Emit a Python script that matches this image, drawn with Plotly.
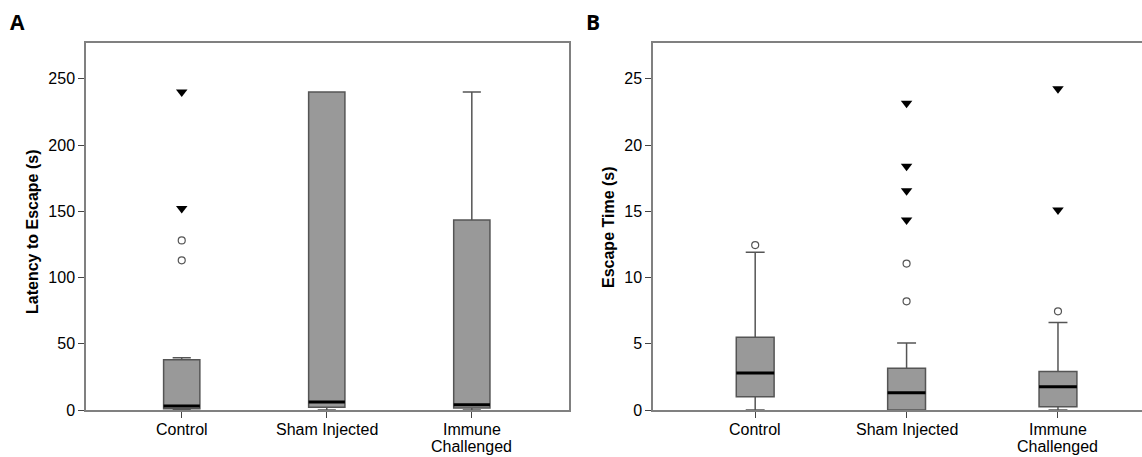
import plotly.graph_objects as go

# Groups shown along both x axes (each label split into its text lines)
group_lines = [["Control"], ["Sham Injected"], ["Immune", "Challenged"]]
positions = [0, 1, 2]

# Panel A: latency to escape (s) - box summary per group
latency_low = [0, 0, 0]
latency_q1 = [1.0, 2.0, 1.5]
latency_median = [3.0, 6.0, 4.0]
latency_q3 = [38.0, 240.0, 143.5]
latency_high = [39.5, 240.0, 240.0]
# mild outliers (circles) and extreme values (triangles), by group index
latency_out_group = [0, 0]
latency_out_value = [128, 113]
latency_ext_group = [0, 0]
latency_ext_value = [240, 152]

# Panel B: escape time (s) - box summary per group
escape_low = [0, 0, 0]
escape_q1 = [1.0, 0.0, 0.25]
escape_median = [2.8, 1.3, 1.75]
escape_q3 = [5.5, 3.15, 2.9]
escape_high = [11.9, 5.05, 6.6]
escape_out_group = [0, 1, 1, 2]
escape_out_value = [12.45, 11.05, 8.2, 7.45]
escape_ext_group = [1, 1, 1, 1, 2, 2]
escape_ext_value = [23.15, 18.4, 16.55, 14.35, 24.25, 15.1]

BOX_W = 0.25
FILL = "#999999"
EDGE = "#555555"
FONT = "Liberation Sans, Arial, sans-serif"

fig = go.Figure()


def add_panel(xa, ya, low, q1, med, q3, high, og, ov, eg, ev):
    fig.add_trace(go.Box(
        x=positions, q1=q1, median=med, q3=q3,
        lowerfence=low, upperfence=high,
        width=BOX_W, whiskerwidth=0.5,
        fillcolor=FILL, line=dict(color=EDGE, width=1.5),
        boxpoints=False, hoverinfo="skip",
        xaxis=xa, yaxis=ya, showlegend=False,
    ))
    # thick median bars
    mx, my = [], []
    for p, m in zip(positions, med):
        mx += [p - BOX_W / 2, p + BOX_W / 2, None]
        my += [m, m, None]
    fig.add_trace(go.Scatter(
        x=mx, y=my, mode="lines", line=dict(color="black", width=3),
        xaxis=xa, yaxis=ya, showlegend=False, hoverinfo="skip",
    ))
    fig.add_trace(go.Scatter(
        x=[positions[g] for g in og], y=ov, mode="markers",
        marker=dict(symbol="circle-open", size=7, color="#555555",
                    line=dict(width=1.2)),
        xaxis=xa, yaxis=ya, showlegend=False, hoverinfo="skip",
    ))
    fig.add_trace(go.Scatter(
        x=[positions[g] for g in eg], y=ev, mode="markers",
        marker=dict(symbol="triangle-down", size=10, color="black"),
        xaxis=xa, yaxis=ya, showlegend=False, hoverinfo="skip",
    ))


add_panel("x", "y", latency_low, latency_q1, latency_median, latency_q3,
          latency_high, latency_out_group, latency_out_value,
          latency_ext_group, latency_ext_value)
add_panel("x2", "y2", escape_low, escape_q1, escape_median, escape_q3,
          escape_high, escape_out_group, escape_out_value,
          escape_ext_group, escape_ext_value)

W, H = 1142, 457
y_dom = [1 - 410 / H, 1 - 43 / H]

xcommon = dict(
    tickvals=positions, showticklabels=False, ticks="outside", ticklen=6,
    tickcolor="#444444", showline=True, linecolor="#808080", linewidth=1.5,
    showgrid=False, zeroline=False, automargin=False,
)
ycommon = dict(
    ticks="outside", ticklen=6, tickcolor="#444444",
    showline=True, linecolor="#808080", linewidth=1.5,
    showgrid=False, zeroline=False, automargin=False,
    tickfont=dict(family=FONT, size=16, color="black"),
)

annotations = [
    dict(text="<b>A</b>", x=8 / W, y=1 - 22 / H, xref="paper", yref="paper",
         xanchor="left", yanchor="middle", showarrow=False,
         font=dict(family="Open Sans, Arial", size=21, color="black")),
    dict(text="<b>B</b>", x=584 / W, y=1 - 22 / H, xref="paper", yref="paper",
         xanchor="left", yanchor="middle", showarrow=False,
         font=dict(family="Open Sans, Arial", size=21, color="black")),
    dict(text="<b>Latency to Escape (s)</b>", x=32 / W, y=1 - 232 / H,
         xref="paper", yref="paper", xanchor="center", yanchor="middle",
         textangle=-90, showarrow=False,
         font=dict(family=FONT, size=16, color="black")),
    dict(text="<b>Escape Time (s)</b>", x=608 / W, y=1 - 227 / H,
         xref="paper", yref="paper", xanchor="center", yanchor="middle",
         textangle=-90, showarrow=False,
         font=dict(family=FONT, size=16, color="black")),
]

# category labels under each tick, one text line per annotation (tight leading)
for xref in ("x", "x2"):
    for p, lines in zip(positions, group_lines):
        for k, line in enumerate(lines):
            annotations.append(dict(
                text=line, x=p, xref=xref, y=1 - (429 + 17.5 * k) / H,
                yref="paper", xanchor="center", yanchor="middle",
                borderpad=0, showarrow=False,
                font=dict(family=FONT, size=16, color="black"),
            ))

fig.update_layout(
    template="none",
    width=W, height=H,
    margin=dict(l=0, r=0, t=0, b=0, pad=0, autoexpand=False),
    paper_bgcolor="white", plot_bgcolor="white",
    xaxis=dict(domain=[86 / W, 569 / W], range=[-0.66, 2.67],
               anchor="y", mirror=True, **xcommon),
    yaxis=dict(domain=y_dom, range=[0, 277], tickvals=[0, 50, 100, 150, 200, 250],
               anchor="x", mirror=True, **ycommon),
    xaxis2=dict(domain=[653 / W, 1.0], range=[-0.675, 2.555],
                anchor="y2", mirror=True, **xcommon),
    yaxis2=dict(domain=y_dom, range=[0, 27.7], tickvals=[0, 5, 10, 15, 20, 25],
                anchor="x2", **ycommon),
    annotations=annotations,
)

fig.write_html("out.html")
